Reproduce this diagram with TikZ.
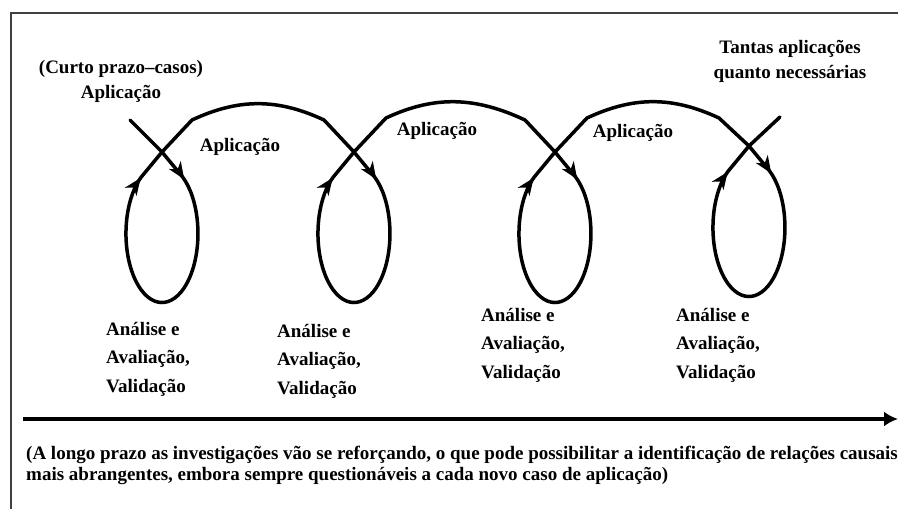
\documentclass[tikz,border=0pt]{standalone}
\usepackage{fontspec}
\setmainfont{Liberation Serif}
\usetikzlibrary{arrows.meta, decorations.markings, calc}

\begin{document}
\begin{tikzpicture}[
    x=1pt, y=1pt,
    note/.style={font=\fontsize{19}{25}\selectfont\bfseries, inner sep=0pt, align=center},
    phase/.style={font=\fontsize{19}{28.5}\selectfont\bfseries, inner sep=0pt, align=left, anchor=north west},
    remark/.style={font=\fontsize{19}{21}\selectfont\bfseries, inner sep=0pt, align=left, anchor=north west},
    arcline/.style={line width=3.5pt, line cap=round, line join=round},
    loopline/.style={arcline, postaction={decorate}, decoration={markings,
        mark=at position 0.1 with {\arrow{Stealth[length=17pt,width=14pt,inset=5pt]}},
        mark=at position 0.905 with {\arrow{Stealth[length=17pt,width=14pt,inset=5pt]}}}},
    rim/.style={line width=1.8pt, black!75},
    timeline/.style={line width=3.5pt, -{Latex[length=14pt,width=15pt]}}
  ]
  \useasboundingbox (0,0) rectangle (898,509);
  \draw[rim] (11,0) -- (11,496) -- (898,496);

  % crossing points of the loops
  \coordinate (c1) at (162,357);
  \coordinate (c2) at (354,357);
  \coordinate (c3) at (555,357);
  \coordinate (c4) at (749,363);
  \coordinate (entry) at (130,389);
  \coordinate (exit) at (780,392);

  % the four loops
  \foreach \c in {c1,c2,c3,c4}
    \draw[loopline] (\c) -- ($(\c)+(20.6,-25)$)
      arc[start angle=55, end angle=-235, x radius=36, y radius=69]
      -- (\c);

  % arcs between the loops
  \draw[arcline] (entry) -- (c1);
  \draw[arcline] (c1) -- ++(30,32) to[out=25,in=155] ($(c2)+(-30,32)$) -- (c2);
  \draw[arcline] (c2) -- ++(32,34) to[out=25,in=155] ($(c3)+(-30,32)$) -- (c3);
  \draw[arcline] (c3) -- ++(32,34) to[out=25,in=155] ($(c4)+(-30,28)$) -- (c4);
  \draw[arcline] (c4) -- (exit);

  \node[note] (start) at (121,428) {(Curto prazo–casos)\\Aplicação};
  \node[note] (more) at (790,448) {Tantas aplicações\\quanto necessárias};
  \node[note] (app1) at (240,362) {Aplicação};
  \node[note] (app2) at (437,378) {Aplicação};
  \node[note] (app3) at (633,376) {Aplicação};

  \node[phase] (eval1) at (106,187) {Análise e\\Avaliação,\\Validação};
  \node[phase] (eval2) at (277,185) {Análise e\\Avaliação,\\Validação};
  \node[phase] (eval3) at (481,201) {Análise e\\Avaliação,\\Validação};
  \node[phase] (eval4) at (676,201) {Análise e\\Avaliação,\\Validação};

  % long-term axis
  \coordinate (t0) at (23,90);
  \coordinate (t1) at (898,90);
  \draw[timeline] (t0) -- (t1);

  \node[remark] (longterm) at (26,63) {(A longo prazo as investigações vão se reforçando, o que pode possibilitar a identificação de relações causais\\mais abrangentes, embora sempre questionáveis a cada novo caso de aplicação)};
\end{tikzpicture}
\end{document}
